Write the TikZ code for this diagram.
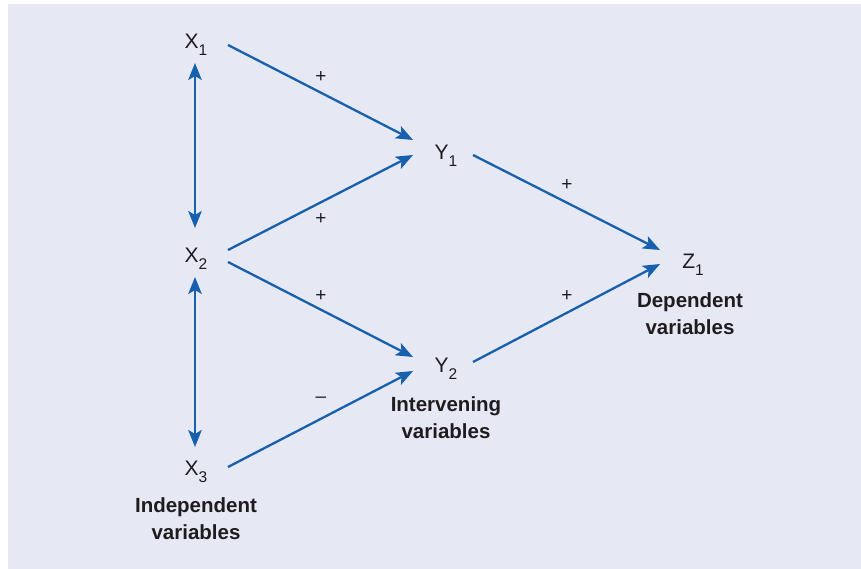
\documentclass[tikz,border=0pt]{standalone}
\usepackage{fontspec}
\setmainfont{Liberation Sans}
\usetikzlibrary{arrows.meta}
\definecolor{panel}{RGB}{230,232,244}
\definecolor{linkblue}{RGB}{22,96,174}
\definecolor{ink}{RGB}{30,28,30}
% lowered index digit for the variable names
\newcommand{\varidx}[1]{\raisebox{-0.32em}{\fontsize{15.5}{16}\selectfont #1}}
\begin{document}
\begin{tikzpicture}[x=1pt,y=-1pt,
  var/.style={text=ink,font=\fontsize{21}{24}\selectfont,inner sep=0pt},
  role/.style={text=ink,font=\fontsize{20.5}{27}\selectfont\bfseries,align=center,inner sep=0pt},
  sign/.style={text=ink,font=\fontsize{19}{20}\selectfont,inner sep=0pt},
  link/.style={draw=linkblue,line width=2.3pt,-{Stealth[length=17pt,width=13.5pt,inset=4pt]}},
  duallink/.style={draw=linkblue,line width=2.3pt,{Stealth[length=17pt,width=13.5pt,inset=4pt]}-{Stealth[length=17pt,width=13.5pt,inset=4pt]}}]
\useasboundingbox (0,0) rectangle (861,569);
\fill[panel] (8,4) rectangle (861,569);

% variables
\node[var] (x1) at (196,45) {X\varidx{1}};
\node[var] (x2) at (196,259) {X\varidx{2}};
\node[var] (x3) at (196,472) {X\varidx{3}};
\node[var] (y1) at (446,156) {Y\varidx{1}};
\node[var] (y2) at (446,369) {Y\varidx{2}};
\node[var] (z1) at (693,265) {Z\varidx{1}};

% group captions
\node[role] (ind) at (196,519) {Independent\\variables};
\node[role] (inter) at (446,418) {Intervening\\variables};
\node[role] (dep) at (690,314) {Dependent\\variables};

% mutual relations between independent variables
\draw[duallink] ([shift={(-1,18)}]x1.center) -- ([shift={(-1,-31)}]x2.center);
\draw[duallink] ([shift={(-1,18)}]x2.center) -- ([shift={(-1,-25)}]x3.center);

% causal links
\draw[link] ([shift={(32,0)}]x1.center) -- ([shift={(-33,-16)}]y1.center);
\draw[link] ([shift={(32,-9)}]x2.center) -- ([shift={(-33,-1)}]y1.center);
\draw[link] ([shift={(32,3)}]x2.center) -- ([shift={(-33,-12)}]y2.center);
\draw[link] ([shift={(32,-5)}]x3.center) -- ([shift={(-33,2)}]y2.center);
\draw[link] ([shift={(27,-1)}]y1.center) -- ([shift={(-33,-15)}]z1.center);
\draw[link] ([shift={(27,-7)}]y2.center) -- ([shift={(-33,-1)}]z1.center);

% signs of the links
\node[sign] (s1) at (321,77) {+};
\node[sign] (s2) at (321,219) {+};
\node[sign] (s3) at (321,296) {+};
\node[sign] (s4) at (321,400) {–};
\node[sign] (s5) at (567,185) {+};
\node[sign] (s6) at (567,296) {+};
\end{tikzpicture}
\end{document}
